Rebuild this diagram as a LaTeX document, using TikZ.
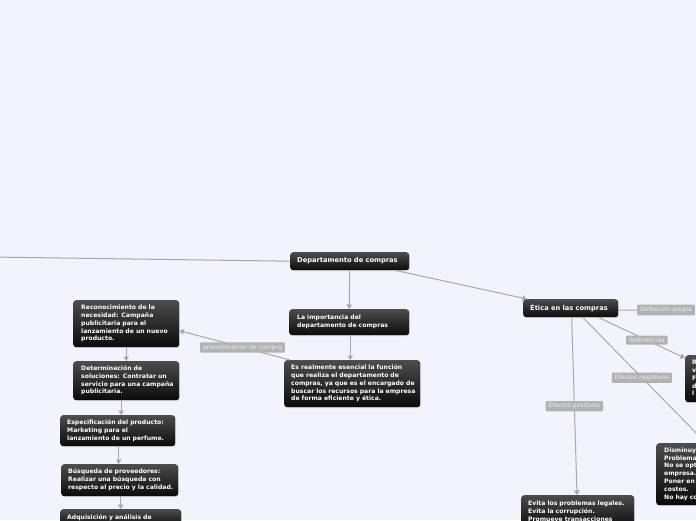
\documentclass[tikz,border=0pt]{standalone}
\usepackage{fontspec}
\setmainfont{DejaVu Sans}
\usetikzlibrary{arrows.meta,shadows,calc}
\definecolor{bg}{HTML}{F2F4FD}
\definecolor{ln}{HTML}{A8A8A8}
\definecolor{lab}{HTML}{B2B2B2}
\newcommand\tlines[1]{\begin{tabular}{@{}l@{}}#1\end{tabular}}
\tikzset{
 box/.style={rounded corners=3pt, top color=black!70, bottom color=black!96, text=white,
   font=\fontsize{6.1}{7.8}\selectfont\bfseries, inner xsep=7pt, inner ysep=3pt,
   anchor=north west, drop shadow={opacity=0.25,shadow xshift=0.8pt,shadow yshift=-0.8pt}},
 title/.style={font=\fontsize{6.7}{8}\selectfont\bfseries},
 lbl/.style={fill=lab, text=white!93!black, font=\fontsize{6.1}{7}\selectfont, inner xsep=3pt,
   inner ysep=2.2pt, rounded corners=1pt},
 conn/.style={draw=ln, line width=1pt},
 arr/.style={conn, -{Triangle[width=5.5pt,length=4.5pt]}},
}
\begin{document}
\begin{tikzpicture}[x=1pt,y=-1pt]
\useasboundingbox (0,0) rectangle (696,520);
\clip (0,0) rectangle (696,520);
\fill[bg] (0,0) rectangle (696,520);
\renewcommand\arraystretch{1}
% nodes
\node[box, title, text width=105pt, minimum height=18pt] (dep) at (290,252) {\tlines{Departamento de compras}};
\node[box, text width=104pt, minimum height=26pt, inner xsep=8pt] (imp) at (289,309) {\tlines{La importancia del\\departamento de compras}};
\node[box, text width=122pt, minimum height=47pt] (es) at (284,360) {\tlines{Es realmente esencial la función\\que realiza el departamento de\\compras, ya que es el encargado de\\buscar los recursos para la empresa\\de forma eficiente y ética.}};
\node[box, title, text width=81pt, minimum height=18pt] (etica) at (523,299) {\tlines{Ética en las compras}};
\node[box, text width=90pt, minimum height=47pt, inner xsep=8pt] (rec) at (73,300) {\tlines{Reconocimiento de la\\necesidad: Campaña\\publicitaria para el\\lanzamiento de un nuevo\\producto.}};
\node[box, text width=90pt, minimum height=39pt, inner xsep=8pt] (det) at (73,361) {\tlines{Determinación de\\soluciones: Contratar un\\servicio para una campaña\\publicitaria.}};
\node[box, text width=101pt, minimum height=31pt] (esp) at (60,415) {\tlines{Especificación del producto:\\Marketing para el\\lanzamiento de un perfume.}};
\node[box, text width=103pt, minimum height=32pt] (bus) at (61,464) {\tlines{Búsqueda de proveedores:\\Realizar una búsqueda con\\respecto al precio y la calidad.}};
\node[box, text width=107pt, inner ysep=5pt] (adq) at (60,509) {\tlines{Adquisición y análisis de}};
\node[box, text width=99pt, inner ysep=5pt] (evita) at (521,495) {\tlines{Evita los problemas legales.\\Evita la corrupción.\\Promueve transacciones}};
\node[box, text width=40pt, minimum height=47pt] (rbox) at (685,355) {\tlines{R\\v\\F\\d\\l}};
\node[box, text width=60pt, minimum height=62pt, inner xsep=8pt] (dis) at (656,443) {\tlines{Disminuye\\Problemas\\No se opt\\empresa.\\Poner en\\costos.\\No hay co}};
% helper coordinates
\coordinate (offl) at (-10,257);
\coordinate (impS) at ($(imp.south)+(1,0)$);
\coordinate (detS) at ($(det.south)+(-5,0)$);
\coordinate (espS) at ($(esp.south)+(1,0)$);
\coordinate (busS) at ($(bus.south)+(1,0)$);
\coordinate (depSE) at ($(dep.south east)+(-14,0)$);
\coordinate (etiN) at ($(etica.north west)+(4,0)$);
\coordinate (esNW) at ($(es.north west)+(6,0)$);
\coordinate (recE) at ($(rec.east)+(0,7)$);
\coordinate (etiE) at ($(etica.east)+(0,2)$);
\coordinate (etiR) at ($(etica.south east)+(-20,0)$);
\coordinate (rboxW) at ($(rbox.north west)+(0,3)$);
\coordinate (etiNeg) at ($(etica.south)+(12,0)$);
\coordinate (disN) at ($(dis.north west)+(50,0)$);
\coordinate (etiPos) at ($(etica.south)+(1,0)$);
\coordinate (evN) at ($(evita.north west)+(56,0)$);
% connectors
\draw[conn] (offl) -- (dep.west);
\draw[arr] (dep.south) -- (imp.north);
\draw[arr] (impS) -- (impS |- es.north);
\draw[arr] (depSE) -- (etiN);
\draw[arr] (esNW) -- node[lbl, pos=0.43] {procedimiento de compra} (recE);
\draw[arr] (rec.south) -- (det.north);
\draw[arr] (detS) -- (detS |- esp.north);
\draw[arr] (espS) -- (espS |- bus.north);
\draw[arr] (busS) -- (busS |- adq.north);
\node[lbl, anchor=west] (defl) at (637,310) {Definición propia};
\draw[conn] (etiE) -- (defl.west);
\draw[arr] (etiR) -- node[lbl, pos=0.56] {Referencias} (rboxW);
\draw[arr] (etiNeg) -- node[lbl, pos=0.48] {Efectos negativos} (disN);
\draw[arr] (etiPos) -- node[lbl, pos=0.5] {Efectos positivos} (evN);
\end{tikzpicture}
\end{document}
